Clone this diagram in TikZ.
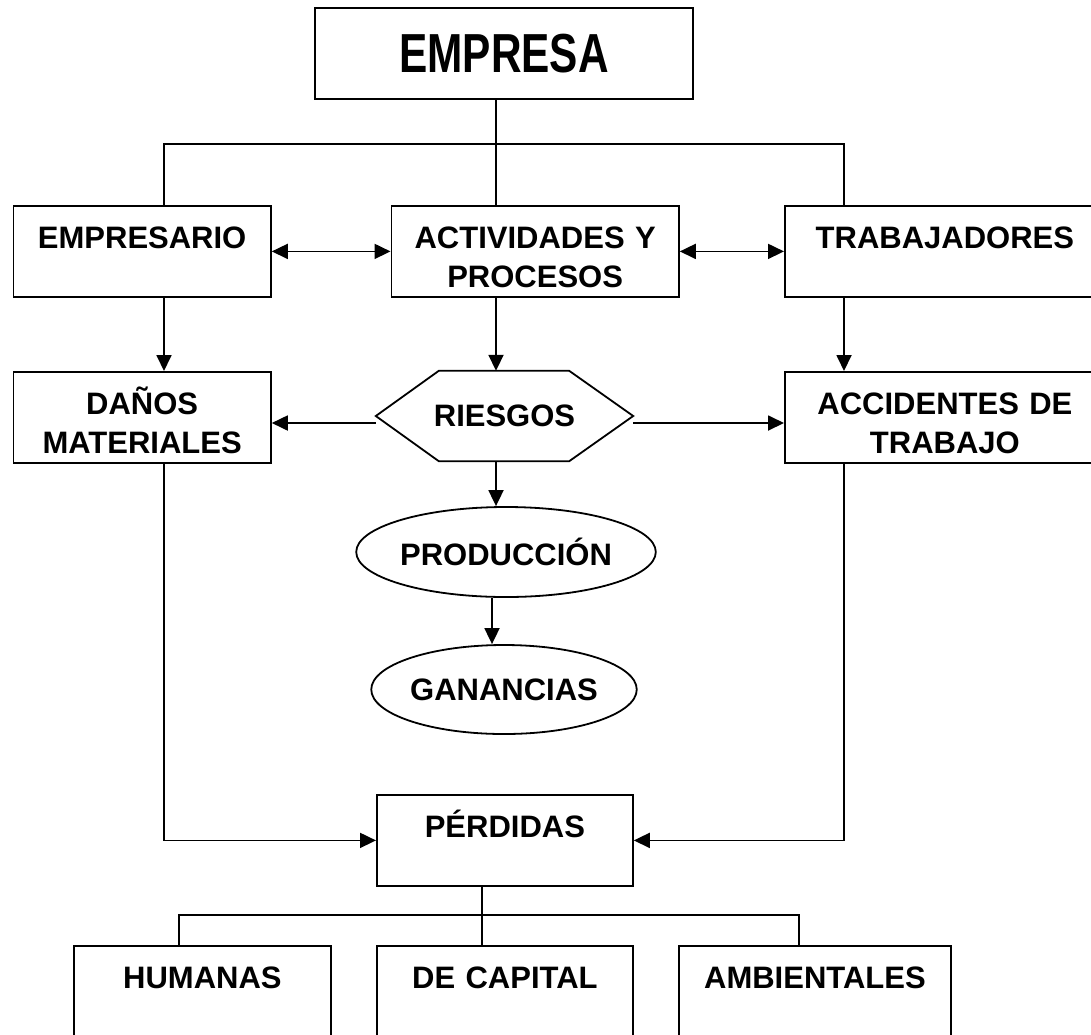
\documentclass[tikz,border=0pt]{standalone}
\usepackage{fontspec}
\setmainfont{Liberation Sans}
\usepackage{graphicx}
\usetikzlibrary{arrows.meta,shapes.geometric,calc}
\begin{document}
\begin{tikzpicture}[x=1pt,y=-1pt,
  every node/.style={font=\bfseries\fontsize{31}{39}\selectfont},
  box/.style={draw, line width=1.8pt, inner sep=0pt, align=center, text height=43pt, text depth=48pt, anchor=north west},
  oval/.style={draw, ellipse, line width=1.8pt, inner sep=0pt},
  conn/.style={line width=1.8pt},
  arr/.style={conn, -{Triangle[length=16pt,width=15pt]}},
  darr/.style={conn, {Triangle[length=16pt,width=15pt]}-{Triangle[length=16pt,width=15pt]}},
]
\clip (0,0) rectangle (1091,1034);
\fill[white] (0,0) rectangle (1091,1034);

% nodes
\node[draw, line width=1.8pt, minimum width=378pt, minimum height=91pt, inner sep=0pt] (empresa) at (504,53.5) {\fontsize{55}{60}\selectfont\scalebox{0.77}[1]{EMPRESA}};
\node[box, text width=257.5pt] (empresario) at (12.5,205) {EMPRESARIO};
\node[box, text width=287.5pt] (actividades) at (390.5,205) {ACTIVIDADES Y\\PROCESOS};
\node[box, text width=320pt] (trabajadores) at (784,205) {TRABAJADORES};
\node[box, text width=257.5pt] (danos) at (12.5,371) {DAÑOS\\MATERIALES};
\node[box, text width=320pt] (accidentes) at (784,371) {ACCIDENTES DE\\TRABAJO};
\node[minimum width=257pt, minimum height=90pt, inner sep=0pt] (riesgos) at (504.5,416) {RIESGOS};
\draw[line width=1.8pt] (riesgos.west) -- ([xshift=63pt]riesgos.north west) -- ([xshift=-64pt]riesgos.north east) -- (riesgos.east) -- ([xshift=-64pt]riesgos.south east) -- ([xshift=63pt]riesgos.south west) -- cycle;
\node[oval, minimum width=292pt, minimum height=90pt] (produccion) at (506,552) {PRODUCCIÓN};
\node[oval, minimum width=259pt, minimum height=89pt] (ganancias) at (504,689.5) {GANANCIAS};
\node[box, text width=256pt] (perdidas) at (376,794) {PÉRDIDAS};
\node[box, text width=257pt, text depth=90pt] (humanas) at (73,945) {HUMANAS};
\node[box, text width=256pt, text depth=90pt] (capital) at (376,945) {DE CAPITAL};
\node[box, text width=272pt, text depth=90pt] (ambientales) at (678,945) {AMBIENTALES};

% helper coordinates
\coordinate (bl) at (164,144);
\coordinate (bm) at (496,144);
\coordinate (br) at (844,144);
\coordinate (yr) at (0,423);
\coordinate (b2) at (492,600);
\coordinate (pl) at (179,915);
\coordinate (pm) at (482,915);
\coordinate (pr) at (799,915);

% connectors
\draw[conn] (empresa.south -| bm) -- (actividades.north -| bm);
\draw[conn] (empresario.north -| bl) -- (bl) -- (br) -- (trabajadores.north -| br);
\draw[darr] (empresario.east) -- (actividades.west);
\draw[darr] (actividades.east) -- (trabajadores.west);
\draw[arr] (empresario.south -| bl) -- (danos.north -| bl);
\draw[arr] (actividades.south -| bm) -- (riesgos.north -| bm);
\draw[arr] (trabajadores.south -| br) -- (accidentes.north -| br);
\draw[arr] (riesgos.west |- yr) -- (danos.east |- yr);
\draw[arr] (riesgos.east |- yr) -- (accidentes.west |- yr);
\draw[arr] (riesgos.south -| bm) -- (produccion.north -| bm);
\draw[arr] (produccion.south -| b2) -- (ganancias.north -| b2);
\draw[arr] (danos.south -| bl) |- (perdidas.west);
\draw[arr] (accidentes.south -| br) |- (perdidas.east);
\draw[conn] (perdidas.south -| pm) -- (pm);
\draw[conn] (humanas.north -| pl) -- (pl) -- (pr) -- (ambientales.north -| pr);
\draw[conn] (pm) -- (capital.north -| pm);
\end{tikzpicture}
\end{document}
